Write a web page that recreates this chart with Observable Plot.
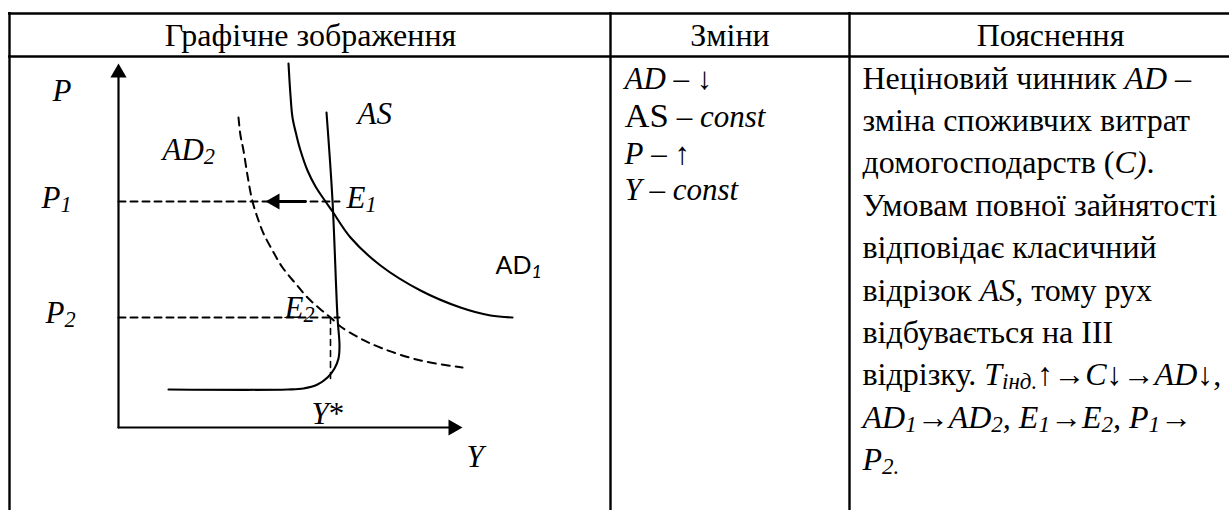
<!DOCTYPE html>
<html><head><meta charset="utf-8">
<script src="https://cdn.jsdelivr.net/npm/d3@7"></script>
<script src="https://cdn.jsdelivr.net/npm/@observablehq/plot@0.6"></script>
<style>html,body{margin:0;padding:0;background:#fff;} svg{display:block;} text{white-space:pre;}</style>
</head><body><div id="chart"></div>
<script>
// ---------------- data ----------------
const headerLabels = ["Графічне зображення", "Зміни", "Пояснення"];
const changeLines = ["<i>AD</i> – ↓", "<L>AS</L><i> – const</i>", "<i>P</i> – ↑", "<i>Y</i> – <i>const</i>"];
const explanationLines = [
  "Неціновий чинник <i>AD</i> –",
  "зміна споживчих витрат",
  "домогосподарств (<i>C)</i>.",
  "Умовам повної зайнятості",
  "відповідає класичний",
  "відрізок <i>AS</i>, тому рух",
  "відбувається на ІІІ",
  "відрізку. <i>T</i><s>інд.</s>↑→<i>C</i>↓→<i>AD</i>↓,",
  "<i>AD</i><s>1</s>→<i>AD</i><s>2</s><i>, E</i><s>1</s>→<i>E</i><s>2</s><i>, P</i><s>1</s>→",
  "<i>P</i><s>2.</s>"
];
// diagram (page units)
const curveAD1 = [[288,63],[290,95],[292,117],[296,135],[300,150],[307,170],[315,186],[325,201],[332,211],[350,237],[380,265],[420,290],[460,307],[490,315],[512,317]];
const curveAD2 = [[238,117],[240,135],[243,150],[247,175],[252,201],[258,220],[263,233],[272,250],[282,267],[295,283],[307,297],[319,308],[330,317],[340,326],[360,338],[382,348],[420,360],[462,367]];
const curveAS = [[326,112],[332,200],[337,317],[339,345],[338,358],[334,368],[327,377],[317,384],[303,388],[287,389],[168,389]];
const dashP1 = [[118,201],[339,201]];
const dashP2 = [[118,317],[339,317]];
const dashYstar = [[330,317],[330,383]];
const axisY = [[118,427],[118,70]];
const axisX = [[118,427],[455,427]];
const shiftArrow = [[305,201],[276,201]];
const arrowTips = [{x:118,y:63,dir:0},{x:462,y:427,dir:90},{x:265,y:201,dir:-90}];
const diagramLabels = [
  {t:"<i>P</i>", x:52, y:100},
  {t:"<i>AD</i><s>2</s>", x:162, y:159},
  {t:"<i>AS</i>", x:357, y:123},
  {t:"<i>P</i><s>1</s>", x:41, y:207},
  {t:"<i>E</i><s>1</s>", x:346, y:207},
  {t:"<i>P</i><s>2</s>", x:45, y:322},
  {t:"<i>E</i><s>2</s>", x:284, y:317},
  {t:"<i>Y</i>*", x:311, y:423},
  {t:"<i>Y</i>", x:466, y:466}
];
const sansLabels = [{t:"AD<s>1</s>", x:495, y:273}];

// ---------------- layout ----------------
const W = 1229, H = 510;
const tableLeft = 9, tableTop = 13, headerBottom = 56;
const colLines = [tableLeft, 610, 849];
const headerX = [310, 729.5, 1050];
const serif = "Liberation Serif";

const pts = a => a.map(([x,y]) => ({x,y}));
const headers = headerLabels.map((t,i) => ({t, x: headerX[i], y: 45}));
const changes = changeLines.map((t,i) => ({t, x: 624, y: [88,126,163,199][i]}));
const explanation = explanationLines.map((t,i) => ({t, x: 862, y: 88 + 42.4*i}));

// triangle arrowheads: place centroid behind tip
const R = 6;
const triOff = 2*Math.sqrt(Math.PI*R*R/(3*Math.sqrt(3)));
const heads = arrowTips.map(d => {
  const a = d.dir*Math.PI/180;
  return {x: d.x - Math.sin(a)*triOff, y: d.y + Math.cos(a)*triOff, dir: d.dir};
});

const line = (a, o={}) => Plot.line(pts(a), {x:"x", y:"y", stroke:"black", strokeWidth:2, ...o});
const txt = (data, o={}) => Plot.text(data, {x:"x", y:"y", text:"t", fontSize:32, fontFamily:serif, textAnchor:"start", lineAnchor:"bottom", fill:"black", ...o});

const chart = Plot.plot({
  width: W, height: H, margin: 0,
  x: {domain:[0,W], range:[0,W], axis:null},
  y: {domain:[0,H], range:[0,H], axis:null},
  style: {background:"white", overflow:"visible"},
  marks: [
    Plot.ruleY([tableTop, headerBottom], {y: d=>d, x1: ()=>tableLeft-1, x2: ()=>W, stroke:"black", strokeWidth:2.4}),
    Plot.ruleX(colLines, {x: d=>d, y1: ()=>tableTop-1, y2: ()=>H, stroke:"black", strokeWidth:2.4}),
    txt(headers, {textAnchor:"middle"}),
    txt(changes, {fontSize:31}),
    txt(explanation),
    // diagram
    line(axisY, {strokeWidth:2.2}),
    line(axisX, {strokeWidth:2.2}),
    line(dashP1, {strokeWidth:2, strokeDasharray:"7,5"}),
    line(dashP2, {strokeWidth:2, strokeDasharray:"7,5"}),
    line(dashYstar, {strokeWidth:1.6, strokeDasharray:"6,5"}),
    line(curveAD2, {strokeWidth:2, strokeDasharray:"8,6", curve:"catmull-rom"}),
    line(curveAD1, {strokeWidth:2.1, curve:"catmull-rom"}),
    line(curveAS, {strokeWidth:2.1, curve:"catmull-rom"}),
    line(shiftArrow, {strokeWidth:2.8}),
    Plot.dot(heads, {x:"x", y:"y", r:R, symbol:"triangle", rotate:"dir", fill:"black", stroke:null}),
    txt(diagramLabels, {fontSize:31}),
    txt(sansLabels, {fontSize:25, fontFamily:"Lato"})
  ]
});

// rich text: <i>italic</i>, <s>subscript</s>, <L>large</L>
function richify(svg) {
  const NS = "http://www.w3.org/2000/svg";
  svg.querySelectorAll("text").forEach(t => {
    const s = t.textContent;
    if (!s.includes("<")) return;
    t.textContent = "";
    let ital=false, sub=false, large=false, shift=0;
    for (const p of s.split(/(<\/?[isL]>)/)) {
      if (p === "<i>") { ital = true; continue; }
      if (p === "</i>") { ital = false; continue; }
      if (p === "<s>") { sub = true; continue; }
      if (p === "</s>") { sub = false; continue; }
      if (p === "<L>") { large = true; continue; }
      if (p === "</L>") { large = false; continue; }
      if (!p) continue;
      const ts = document.createElementNS(NS, "tspan");
      ts.textContent = p;
      if (ital || sub) ts.setAttribute("font-style", "italic");
      const want = sub ? 4 : 0;
      if (want !== shift) { ts.setAttribute("dy", want - shift); shift = want; }
      if (sub) ts.setAttribute("font-size", "0.72em");
      if (large) ts.setAttribute("font-size", "1.12em");
      t.appendChild(ts);
    }
  });
}
richify(chart);
document.getElementById("chart").appendChild(chart);
</script>
</body></html>
